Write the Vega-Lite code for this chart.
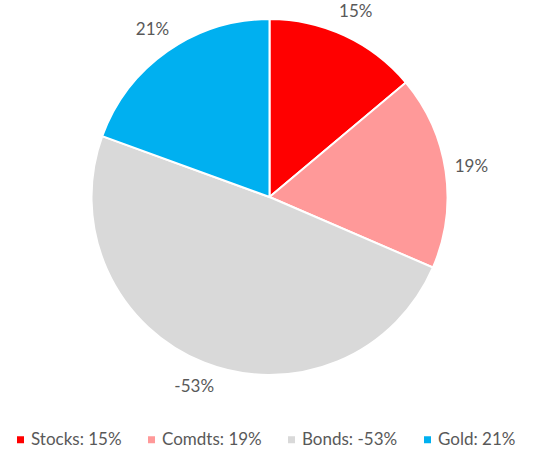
{
  "$schema": "https://vega.github.io/schema/vega-lite/v6.json",
  "width": 539,
  "height": 394,
  "autosize": "none",
  "padding": {"left": 0, "top": 0, "right": 0, "bottom": 62},
  "background": "white",
  "config": {"view": {"stroke": null}, "font": "Lato"},
  "data": {
    "values": [
      {"idx": 1, "asset": "Stocks", "value": 15, "label": "15%", "legend": "Stocks: 15%"},
      {"idx": 2, "asset": "Comdts", "value": 19, "label": "19%", "legend": "Comdts: 19%"},
      {"idx": 3, "asset": "Bonds", "value": 53, "label": "-53%", "legend": "Bonds: -53%"},
      {"idx": 4, "asset": "Gold", "value": 21, "label": "21%", "legend": "Gold: 21%"}
    ]
  },
  "encoding": {
    "theta": {"field": "value", "type": "quantitative", "stack": true},
    "order": {"field": "idx", "type": "quantitative"}
  },
  "layer": [
    {
      "mark": {"type": "arc", "outerRadius": 178, "stroke": "white", "strokeWidth": 2},
      "encoding": {
        "color": {
          "field": "legend",
          "type": "nominal",
          "scale": {
            "domain": ["Stocks: 15%", "Comdts: 19%", "Bonds: -53%", "Gold: 21%"],
            "range": ["#FF0000", "#FF9999", "#D9D9D9", "#00B0F0"]
          },
          "legend": {
            "title": null,
            "orient": "none",
            "legendX": 12,
            "legendY": 431,
            "direction": "horizontal",
            "columns": 4,
            "symbolType": "square",
            "symbolSize": 49,
            "symbolStrokeWidth": 0,
            "labelFontSize": 17,
            "labelColor": "#595959",
            "labelOffset": 2,
            "columnPadding": 21
          }
        }
      }
    },
    {
      "mark": {"type": "text", "radius": 204, "fontSize": 17, "color": "#595959"},
      "encoding": {
        "text": {"field": "label", "type": "nominal"}
      }
    }
  ]
}
